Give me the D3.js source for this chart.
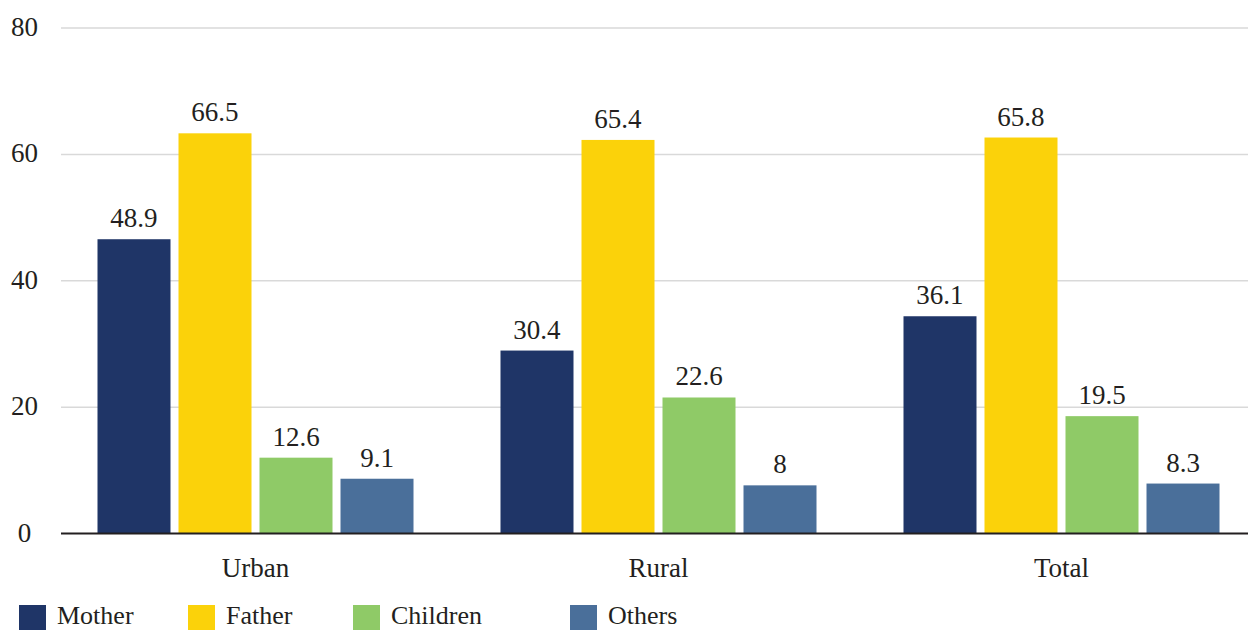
<!DOCTYPE html>
<html>
<head>
<meta charset="utf-8">
<script src="https://cdn.jsdelivr.net/npm/d3@7"></script>
<style>
  html, body { margin: 0; padding: 0; background: #ffffff; }
  svg { display: block; }
  text { font-family: "Liberation Serif", "DejaVu Serif", serif; fill: #231f20; }
</style>
</head>
<body>
<svg id="chart" width="1248" height="630"></svg>
<script>
// Data
const categories = ["Urban", "Rural", "Total"];
const seriesNames = ["Mother", "Father", "Children", "Others"];
const mother   = [48.9, 30.4, 36.1];
const father   = [66.5, 65.4, 65.8];
const children = [12.6, 22.6, 19.5];
const others   = [9.1, 8.0, 8.3];
const yTicks = [0, 20, 40, 60, 80];

const seriesValues = [mother, father, children, others];
const colors = ["#1f3567", "#fbd20a", "#8fca67", "#4a6f9a"];

const svg = d3.select("#chart");

const plotLeft = 61, plotRight = 1248;
const yTop = 28, yBottom = 533.5;

// Axis scale for the gridlines and tick labels
const y = d3.scaleLinear().domain([0, 80]).range([yBottom, yTop]);
// Bars are plotted on their own value scale
const yBar = d3.scaleLinear().domain([0, 84]).range([yBottom, yTop]);

const x0 = d3.scaleBand().domain(categories).range([54, 1263]).padding(0);
const groupWidth = 316;
const x1 = d3.scaleBand().domain(seriesNames).range([0, groupWidth])
  .paddingInner(0.0988).paddingOuter(0);
const groupOffset = (x0.bandwidth() - groupWidth) / 2;

// Gridlines
svg.append("g")
  .selectAll("line")
  .data(yTicks.filter(d => d !== 0))
  .join("line")
  .attr("x1", plotLeft).attr("x2", plotRight)
  .attr("y1", d => y(d)).attr("y2", d => y(d))
  .attr("stroke", "#d9d9d9").attr("stroke-width", 1.5);

// Tick labels
svg.append("g")
  .selectAll("text")
  .data(yTicks)
  .join("text")
  .attr("x", 24.5)
  .attr("y", d => y(d) + 8)
  .attr("text-anchor", "middle")
  .attr("font-size", 27)
  .text(d => d);

// Bars
const rows = [];
categories.forEach((c, i) => {
  seriesNames.forEach((s, j) => {
    rows.push({ cat: c, series: s, value: seriesValues[j][i], color: colors[j] });
  });
});

const barG = svg.append("g");
barG.selectAll("rect")
  .data(rows)
  .join("rect")
  .attr("x", d => x0(d.cat) + groupOffset + x1(d.series))
  .attr("y", d => yBar(d.value))
  .attr("width", x1.bandwidth())
  .attr("height", d => yBottom - yBar(d.value))
  .attr("fill", d => d.color);

// Value labels
barG.selectAll("text")
  .data(rows)
  .join("text")
  .attr("x", d => x0(d.cat) + groupOffset + x1(d.series) + x1.bandwidth() / 2)
  .attr("y", d => yBar(d.value) - 12)
  .attr("text-anchor", "middle")
  .attr("font-size", 27)
  .text(d => d3.format("~g")(d.value));

// Baseline
svg.append("line")
  .attr("x1", plotLeft).attr("x2", plotRight)
  .attr("y1", yBottom).attr("y2", yBottom)
  .attr("stroke", "#231f20").attr("stroke-width", 2.2);

// Category labels
svg.append("g")
  .selectAll("text")
  .data(categories)
  .join("text")
  .attr("x", d => x0(d) + x0.bandwidth() / 2)
  .attr("y", 577)
  .attr("text-anchor", "middle")
  .attr("font-size", 27)
  .text(d => d);

// Legend
const legendX = [19, 188, 353, 570];
const legend = svg.append("g")
  .selectAll("g")
  .data(seriesNames)
  .join("g")
  .attr("transform", (d, i) => `translate(${legendX[i]},605)`);
legend.append("rect")
  .attr("width", 27).attr("height", 25)
  .attr("fill", (d, i) => colors[i]);
legend.append("text")
  .attr("x", 38).attr("y", 19)
  .attr("font-size", 26)
  .text(d => d);
</script>
</body>
</html>
